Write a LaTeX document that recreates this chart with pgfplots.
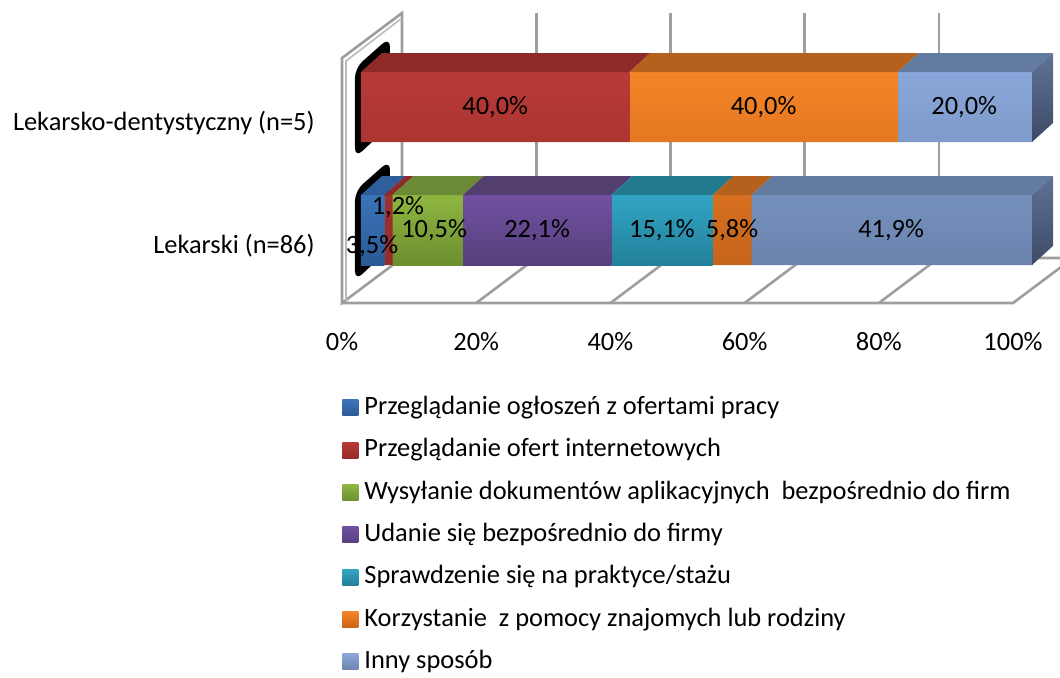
\documentclass[border=0pt]{standalone}
\usepackage{pgfplots}
\pgfplotsset{compat=1.18}
\usepackage{pgfplotstable}
\usepackage{fontspec}
\setmainfont{Carlito}

% front gradients (top -> bottom)
\definecolor{blT}{HTML}{3B74BA}\definecolor{blB}{HTML}{2B5A93}
\definecolor{rdT}{HTML}{B83A37}\definecolor{rdB}{HTML}{962B28}
\definecolor{grT}{HTML}{8FB640}\definecolor{grB}{HTML}{6D8E31}
\definecolor{puT}{HTML}{7050A0}\definecolor{puB}{HTML}{56407C}
\definecolor{teT}{HTML}{31A5C4}\definecolor{teB}{HTML}{23809A}
\definecolor{orT}{HTML}{F58426}\definecolor{orB}{HTML}{C5641B}
\definecolor{lbT}{HTML}{89A7DA}\definecolor{lbB}{HTML}{6B83AD}
% top faces
\definecolor{blF}{HTML}{2E5E9B}
\definecolor{rdF}{HTML}{8E2A27}
\definecolor{grF}{HTML}{6A8A35}
\definecolor{puF}{HTML}{523F6F}
\definecolor{teF}{HTML}{227A8F}
\definecolor{orF}{HTML}{B5601C}
\definecolor{lbF}{HTML}{637B9F}
% side face
\definecolor{sdT}{HTML}{5F7296}\definecolor{sdB}{HTML}{3D4A66}
\definecolor{gridc}{HTML}{9E9E9E}

\pgfplotstableread{
y    blue red  green purple teal orange other
107  0    40   0     0      0    40     20
230  3.5  1.2  10.5  22.1   15.1 5.8    41.9
}\datatable

\pgfplotsset{
  base/.style={
    width=335.5pt, height=151.5pt, scale only axis,
    xmin=0, xmax=100, ymin=0, ymax=303, y dir=reverse,
    enlargelimits=false, clip=false,
    axis line style={draw=none}, major tick length=0pt,
    at={(180.5pt,338.5pt)}, anchor=north west,
  },
}
\newcommand{\lf}{\fontsize{13.2}{15}\selectfont}

\begin{document}
\begin{tikzpicture}
\useasboundingbox (0,0) rectangle (530pt,338.5pt);

% ---------- background: walls, floor ----------
\begin{axis}[base, xtick=\empty, ytick=\empty]
  \draw[gridc, line width=1.3pt]
    (axis cs:-2.83,303) -- (axis cs:97.17,303) -- (axis cs:106.11,258) -- (axis cs:6.11,258);
  \draw[gridc, line width=1.3pt]
    (axis cs:-2.83,303) -- (axis cs:-2.83,58) -- (axis cs:6.11,13) -- (axis cs:6.11,258) -- cycle;
  \draw[gridc!70, line width=0.8pt]
    (axis cs:-2.23,300) -- (axis cs:-2.23,61) -- (axis cs:6.11,18);
  \draw[gridc, line width=1.3pt] (axis cs:26.11,13) -- (axis cs:26.11,258);
  \draw[gridc, line width=1.3pt] (axis cs:46.11,13) -- (axis cs:46.11,258);
  \draw[gridc, line width=1.3pt] (axis cs:66.11,13) -- (axis cs:66.11,258);
  \draw[gridc, line width=1.3pt] (axis cs:86.11,13) -- (axis cs:86.11,258);
  \draw[gridc, line width=1.3pt] (axis cs:17.17,303) -- (axis cs:26.11,258);
  \draw[gridc, line width=1.3pt] (axis cs:37.17,303) -- (axis cs:46.11,258);
  \draw[gridc, line width=1.3pt] (axis cs:57.17,303) -- (axis cs:66.11,258);
  \draw[gridc, line width=1.3pt] (axis cs:77.17,303) -- (axis cs:86.11,258);
  % black end caps
  \fill[black, rounded corners=5pt] (axis cs:-0.9,158) -- (axis cs:-0.9,68) -- (axis cs:4.32,37) -- (axis cs:4.32,125) -- cycle;
  \fill[black, rounded corners=5pt] (axis cs:-0.9,281) -- (axis cs:-0.9,191) -- (axis cs:4.32,160) -- (axis cs:4.32,248) -- cycle;
\end{axis}

% ---------- bars ----------
\begin{axis}[base, xbar stacked, bar width=70,
  legend image code/.code={\path[#1,draw=none] (0pt,-4pt) rectangle (8pt,4pt);},
  ytick={107,230},
  yticklabels={Lekarsko-dentystyczny (n=5), Lekarski (n=86)},
  xtick={0,20,40,60,80,100},
  xticklabels={0\%,20\%,40\%,60\%,80\%,100\%},
  tick label style={font=\lf, inner sep=0pt},
  yticklabel style={anchor=east, xshift=-23pt, yshift=-8pt},
  xticklabel style={anchor=north, xshift=-9.5pt, yshift=-14.5pt},
  legend cell align=left,
  legend style={at={(-0.0283,-0.3036)}, anchor=north west, draw=none, fill=none,
    inner sep=0pt, row sep=8.67pt, column sep=3pt,
    nodes={inner sep=0pt, text height=9.5pt, text depth=3pt, font=\lf}},
]
  \addplot[draw=none, top color=blT, bottom color=blB] table[x=blue, y=y] {\datatable};
  \addplot[draw=none, top color=rdT, bottom color=rdB] table[x=red, y=y] {\datatable};
  \addplot[draw=none, top color=grT, bottom color=grB] table[x=green, y=y] {\datatable};
  \addplot[draw=none, top color=puT, bottom color=puB] table[x=purple, y=y] {\datatable};
  \addplot[draw=none, top color=teT, bottom color=teB] table[x=teal, y=y] {\datatable};
  \addplot[draw=none, top color=orT, bottom color=orB] table[x=orange, y=y] {\datatable};
  \addplot[draw=none, top color=lbT, bottom color=lbB] table[x=other, y=y] {\datatable};
  \legend{Przeglądanie ogłoszeń z ofertami pracy,
          Przeglądanie ofert internetowych,
          Wysyłanie dokumentów aplikacyjnych~~bezpośrednio do firm,
          Udanie się bezpośrednio do firmy,
          Sprawdzenie się na praktyce/stażu,
          Korzystanie~~z pomocy znajomych lub rodziny,
          Inny sposób}
\end{axis}

% ---------- 3D faces and labels ----------
\begin{axis}[base, xtick=\empty, ytick=\empty]
  % top faces: Lekarsko-dentystyczny
  \addplot[fill=rdF, draw=none] coordinates {(0,72) (40,72) (43.13,53) (3.13,53)} -- cycle;
  \addplot[fill=orF, draw=none] coordinates {(40,72) (80,72) (83.13,53) (43.13,53)} -- cycle;
  \addplot[fill=lbF, draw=none] coordinates {(80,72) (100,72) (103.13,53) (83.13,53)} -- cycle;
  % top faces: Lekarski
  \addplot[fill=blF, draw=none] coordinates {(0,195) (3.5,195) (6.63,176) (3.13,176)} -- cycle;
  \addplot[fill=rdF, draw=none] coordinates {(3.5,195) (4.7,195) (7.83,176) (6.63,176)} -- cycle;
  \addplot[fill=grF, draw=none] coordinates {(4.7,195) (15.2,195) (18.33,176) (7.83,176)} -- cycle;
  \addplot[fill=puF, draw=none] coordinates {(15.2,195) (37.3,195) (40.43,176) (18.33,176)} -- cycle;
  \addplot[fill=teF, draw=none] coordinates {(37.3,195) (52.4,195) (55.53,176) (40.43,176)} -- cycle;
  \addplot[fill=orF, draw=none] coordinates {(52.4,195) (58.2,195) (61.33,176) (55.53,176)} -- cycle;
  \addplot[fill=lbF, draw=none] coordinates {(58.2,195) (100,195) (103.13,176) (61.33,176)} -- cycle;
  % right side faces
  \addplot[top color=sdT, bottom color=sdB, draw=none] coordinates {(100,72) (100,142) (103.13,123) (103.13,53)} -- cycle;
  \addplot[top color=sdT, bottom color=sdB, draw=none] coordinates {(100,195) (100,265) (103.13,246) (103.13,176)} -- cycle;
  % data labels
  \addplot[draw=none, nodes near coords, point meta=explicit symbolic,
    nodes near coords align={center},
    every node near coord/.append style={anchor=center, font=\lf, inner sep=0pt, text=black}]
    coordinates {
      (20,107) [40,0\%]
      (60,107) [40,0\%]
      (89.9,107) [20,0\%]
      (1.64,246) [3,5\%]
      (5.5,207) [1,2\%]
      (10.9,230) [10,5\%]
      (26.25,230) [22,1\%]
      (44.85,230) [15,1\%]
      (55.3,230) [5,8\%]
      (79.0,230) [41,9\%]
    };
\end{axis}
\end{tikzpicture}
\end{document}
